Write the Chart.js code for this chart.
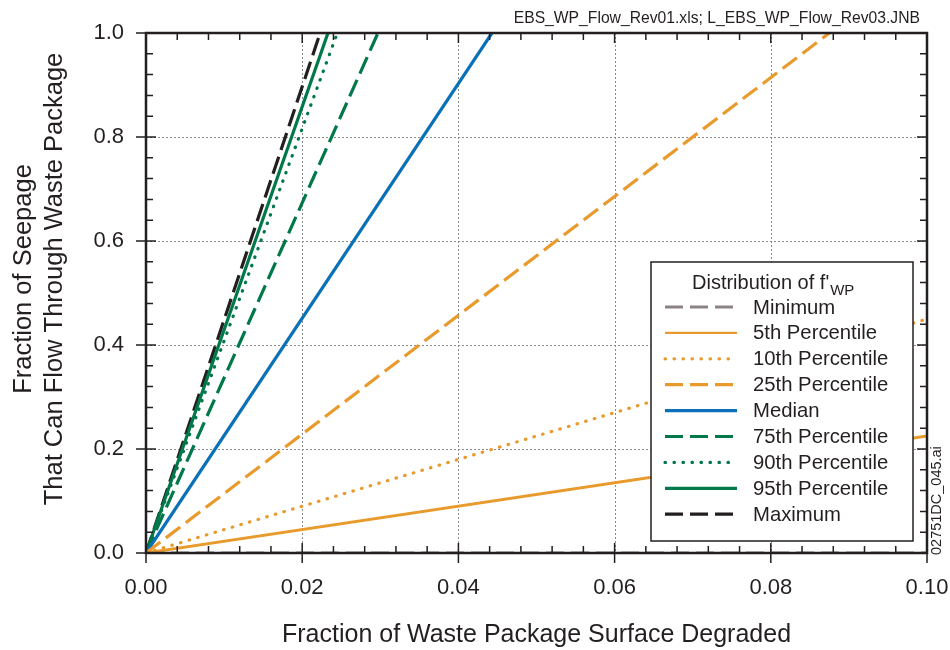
<!DOCTYPE html>
<html>
<head>
<meta charset="utf-8">
<script src="https://cdn.jsdelivr.net/npm/chart.js@4.4.1/dist/chart.umd.min.js"></script>
<style>
  body { margin: 0; background: #fff; }
  #wrap { width: 950px; height: 650px; }
</style>
</head>
<body>
<div id="wrap"><canvas id="chart0" width="950" height="650"></canvas></div>
<script>
// series, each a straight line from the origin to its end point
var seriesNames = ['Minimum', '5th Percentile', '10th Percentile', '25th Percentile', 'Median',
	'75th Percentile', '90th Percentile', '95th Percentile', 'Maximum'];
var endX = [0.10, 0.10, 0.10, 0.0875, 0.0443, 0.0297, 0.0245, 0.0233, 0.0223];
var endY = [0.0, 0.225, 0.45, 1.0, 1.0, 1.0, 1.0, 1.0, 1.0];

var xTicks = [0, 0.02, 0.04, 0.06, 0.08, 0.10];
var yTicks = [0, 0.2, 0.4, 0.6, 0.8, 1.0];

var colors = ['#8c8283', '#e99a2c', '#e99a2c', '#e99a2c', '#0a70b8', '#00784a', '#00784a', '#00784a', '#231f20'];
var styles = ['dash', 'solid', 'dot', 'dash', 'solid', 'dash', 'dot', 'solid', 'dash'];

function dashFor(style) {
	if (style == 'dash') return [18, 7];
	if (style == 'dot') return [0.5, 8.5];
	return [];
}

var datasets = [];
for (var i = 0; i < seriesNames.length; i++) {
	datasets.push({
		label: seriesNames[i],
		data: [{ x: 0, y: 0 }, { x: endX[i], y: endY[i] }],
		showLine: true,
		pointRadius: 0,
		borderColor: colors[i],
		borderWidth: i == 1 ? 2.8 : 3.2,
		borderDash: dashFor(styles[i]),
		borderCapStyle: styles[i] == 'dot' ? 'round' : 'butt',
		fill: false
	});
}
// draw minimum on top of the others, like the source
datasets.push(datasets.shift());

var font = 'Liberation Sans, Arial, sans-serif';

var framePlugin = {
	id: 'frame',
	beforeDatasetsDraw: function(chart) {
		var ctx = chart.ctx, a = chart.chartArea;
		var xs = chart.scales.x, ys = chart.scales.y;
		ctx.save();
		ctx.strokeStyle = '#8a8a8a';
		ctx.lineWidth = 1;
		ctx.setLineDash([2, 2]);
		xTicks.slice(1, -1).forEach(function(v) {
			var px = Math.round(xs.getPixelForValue(v)) + 0.5;
			ctx.beginPath(); ctx.moveTo(px, a.top); ctx.lineTo(px, a.bottom); ctx.stroke();
		});
		yTicks.slice(1, -1).forEach(function(v) {
			var py = Math.round(ys.getPixelForValue(v)) + 0.5;
			ctx.beginPath(); ctx.moveTo(a.left, py); ctx.lineTo(a.right, py); ctx.stroke();
		});
		ctx.restore();
	},
	afterDatasetsDraw: function(chart) {
		var ctx = chart.ctx, a = chart.chartArea;
		var xs = chart.scales.x, ys = chart.scales.y;
		ctx.save();
		ctx.setLineDash([]);
		ctx.strokeStyle = '#231f20';

		// ticks
		ctx.lineWidth = 1.5;
		var j, v, px, py;
		for (j = 0; j <= 25; j++) {
			v = j * 0.004;
			px = xs.getPixelForValue(v);
			var major = j % 5 == 0;
			var len = major ? 10 : 7;
			ctx.beginPath();
			ctx.moveTo(px, a.bottom + (major ? 10 : 0)); ctx.lineTo(px, a.bottom - len);
			ctx.moveTo(px, a.top); ctx.lineTo(px, a.top + len);
			ctx.stroke();
		}
		for (j = 0; j <= 25; j++) {
			v = j * 0.04;
			py = ys.getPixelForValue(v);
			var majorY = j % 5 == 0;
			var lenY = majorY ? 10 : 7;
			ctx.beginPath();
			ctx.moveTo(a.left - (majorY ? 10 : 0), py); ctx.lineTo(a.left + lenY, py);
			ctx.moveTo(a.right, py); ctx.lineTo(a.right - lenY, py);
			ctx.stroke();
		}

		// frame
		ctx.lineWidth = 2.5;
		ctx.strokeRect(a.left, a.top, a.right - a.left, a.bottom - a.top);

		// legend box
		var lx = 651, ly = 262, lw = 262, lh = 279;
		ctx.fillStyle = '#fff';
		ctx.fillRect(lx, ly, lw, lh);
		ctx.lineWidth = 1.5;
		ctx.strokeRect(lx, ly, lw, lh);

		ctx.fillStyle = '#231f20';
		ctx.textBaseline = 'alphabetic';
		ctx.textAlign = 'left';
		ctx.font = '20px ' + font;
		var t = "Distribution of f'";
		ctx.fillText(t, 692, 289);
		var tw = ctx.measureText(t).width;
		ctx.font = '15px ' + font;
		ctx.fillText('WP', 692 + tw + 1, 295);

		ctx.font = '20.3px ' + font;
		for (var k = 0; k < seriesNames.length; k++) {
			var rowY = 307 + k * 25.9;
			ctx.strokeStyle = colors[k];
			ctx.lineWidth = k == 1 ? 2.2 : 3.2;
			ctx.setLineDash(dashFor(styles[k]));
			ctx.lineCap = styles[k] == 'dot' ? 'round' : 'butt';
			ctx.beginPath();
			ctx.moveTo(665, rowY); ctx.lineTo(737, rowY);
			ctx.stroke();
			ctx.setLineDash([]);
			ctx.fillStyle = '#231f20';
			ctx.textBaseline = 'middle';
			ctx.fillText(seriesNames[k], 753, rowY + 1);
		}

		// y title (two lines)
		ctx.save();
		ctx.translate(24, 279);
		ctx.rotate(-Math.PI / 2);
		ctx.textAlign = 'center';
		ctx.textBaseline = 'middle';
		ctx.font = '25.5px ' + font;
		ctx.fillStyle = '#231f20';
		ctx.fillText('Fraction of Seepage', 0, 0);
		ctx.fillText('That Can Flow Through Waste Package', 0, 31);
		ctx.restore();

		// file note
		ctx.textAlign = 'right';
		ctx.textBaseline = 'alphabetic';
		ctx.font = '15.7px ' + font;
		ctx.fillStyle = '#231f20';
		ctx.fillText('EBS_WP_Flow_Rev01.xls; L_EBS_WP_Flow_Rev03.JNB', 920, 23);

		ctx.save();
		ctx.translate(937, 555);
		ctx.rotate(-Math.PI / 2);
		ctx.textAlign = 'left';
		ctx.textBaseline = 'middle';
		ctx.font = '14.5px ' + font;
		ctx.fillText('02751DC_045.ai', 0, 0);
		ctx.restore();

		ctx.restore();
	}
};

var ctx = document.getElementById('chart0');
var myChart = new Chart(ctx, {
	type: 'scatter',
	data: { datasets: datasets },
	plugins: [framePlugin],
	options: {
		responsive: false,
		animation: false,
		layout: { padding: { top: 33, right: 23, left: 0, bottom: 0 } },
		plugins: {
			legend: { display: false },
			tooltip: { enabled: false }
		},
		scales: {
			x: {
				type: 'linear',
				min: 0,
				max: 0.1,
				afterFit: function(scale) {
					scale.height = 97;
					scale.paddingLeft = 0;
					scale.paddingRight = 0;
				},
				afterBuildTicks: function(scale) {
					scale.ticks = xTicks.map(function(v) { return { value: v }; });
				},
				ticks: {
					padding: 22,
					color: '#231f20',
					font: { family: font, size: 22 },
					maxRotation: 0,
					callback: function(v) { return v.toFixed(2); }
				},
				grid: { display: false, drawTicks: false },
				border: { display: false },
				title: {
					display: true,
					text: 'Fraction of Waste Package Surface Degraded',
					color: '#231f20',
					font: { family: font, size: 25 },
					padding: { top: 0, bottom: 0 }
				}
			},
			y: {
				type: 'linear',
				min: 0,
				max: 1,
				afterFit: function(scale) {
					scale.width = 146;
					scale.paddingTop = 0;
					scale.paddingBottom = 0;
				},
				afterBuildTicks: function(scale) {
					scale.ticks = yTicks.map(function(v) { return { value: v }; });
				},
				ticks: {
					padding: 22,
					color: '#231f20',
					font: { family: font, size: 22 },
					callback: function(v) { return v.toFixed(1); }
				},
				grid: { display: false, drawTicks: false },
				border: { display: false }
			}
		}
	}
});
</script>
</body>
</html>
